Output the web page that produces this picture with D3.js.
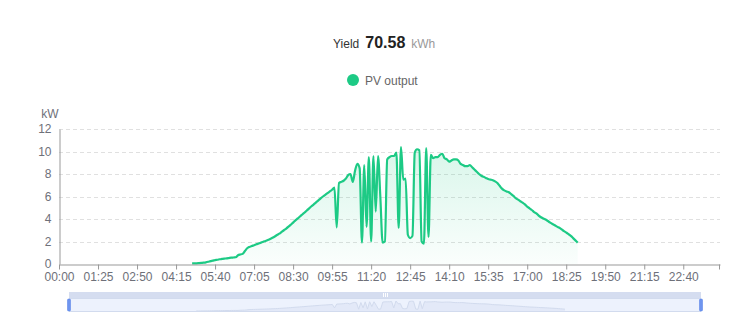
<!DOCTYPE html>
<html>
<head>
<meta charset="utf-8">
<script src="https://cdn.jsdelivr.net/npm/d3@7/dist/d3.min.js"></script>
<style>
  html, body { margin: 0; padding: 0; background: #fff; }
  svg { display: block; font-family: "Liberation Sans", Arial, sans-serif; }
</style>
</head>
<body>
<svg id="chart" width="732" height="324"></svg>
<script>
// Daily yield shown in the header
const yieldValue = 70.58;
const yieldUnit = "kWh";
const seriesName = "PV output";

// x categories: every 5 minutes of the day, 00:00 .. 24:00
const timeSlots = [];
for (let m = 0; m <= 24 * 60; m += 5) {
  timeSlots.push(String(Math.floor(m / 60)).padStart(2, "0") + ":" + String(m % 60).padStart(2, "0"));
}
const xTickLabels = ["00:00","01:25","02:50","04:15","05:40","07:05","08:30","09:55","11:20",
                     "12:45","14:10","15:35","17:00","18:25","19:50","21:15","22:40"];
const yTicks = [0, 2, 4, 6, 8, 10, 12];

// PV output in kW, one sample every 5 minutes starting at 04:50
const pvStart = "04:50";
const pvOutput = [
  0.05, 0.05, 0.06, 0.08, 0.10, 0.12, 0.15, 0.20, 0.26, 0.30,
  0.35, 0.38, 0.42, 0.45, 0.48, 0.50, 0.53, 0.56, 0.58, 0.60,
  0.78, 0.85, 0.90, 1.15, 1.40, 1.52, 1.60, 1.67, 1.75, 1.82,
  1.90, 1.98, 2.05, 2.13, 2.22, 2.33, 2.45, 2.58, 2.70, 2.85,
  3.00, 3.15, 3.32, 3.50, 3.68, 3.88, 4.05, 4.22, 4.40, 4.58,
  4.76, 4.95, 5.13, 5.30, 5.48, 5.65, 5.83, 6.00, 6.15, 6.30,
  6.45, 6.60, 6.80, 3.25, 7.20, 7.30, 7.40, 7.60, 7.90, 8.00,
  7.30, 8.30, 8.90, 8.50, 1.90, 8.80, 3.30, 9.50, 2.00, 9.60,
  4.65, 9.60, 6.00, 1.90, 2.00, 9.30, 9.50, 9.60, 9.60, 9.90,
  3.20, 10.40, 7.50, 7.60, 2.60, 2.30, 2.50, 9.90, 10.20, 10.10,
  2.00, 1.80, 10.30, 2.40, 9.70, 9.40, 9.50, 9.50, 9.70, 9.80,
  9.40, 9.30, 9.10, 9.20, 9.30, 9.30, 9.20, 8.90, 8.80, 8.70,
  8.70, 8.80, 8.60, 8.40, 8.20, 8.00, 7.85, 7.75, 7.65, 7.55,
  7.50, 7.45, 7.35, 7.20, 6.95, 6.70, 6.55, 6.45, 6.38, 6.22,
  6.05, 5.85, 5.72, 5.58, 5.45, 5.30, 5.10, 4.95, 4.80, 4.62,
  4.50, 4.30, 4.15, 4.05, 3.95, 3.82, 3.68, 3.56, 3.45, 3.32,
  3.22, 3.08, 2.92, 2.80, 2.65, 2.50, 2.30, 2.10, 1.90
];

const lineColor = "#1dca85";
const startIdx = timeSlots.indexOf(pvStart);
const points = pvOutput.map((v, k) => ({ t: timeSlots[startIdx + k], v }));

const svg = d3.select("#chart");
const plot = { left: 59, right: 720, top: 129, bottom: 264 };

const x = d3.scalePoint().domain(timeSlots).range([plot.left, plot.right]);
const y = d3.scaleLinear().domain([0, 12]).range([plot.bottom, plot.top]);

// ---- header: yield ----
const head = svg.append("g");
const tY = head.append("text").attr("y", 48).attr("font-size", 12).attr("fill", "#333").text("Yield");
const tV = head.append("text").attr("y", 48).attr("font-size", 16).attr("font-weight", "bold").attr("fill", "#222").text(yieldValue.toFixed(2));
const tU = head.append("text").attr("y", 48).attr("font-size", 12).attr("fill", "#999").text(yieldUnit);
{
  const w1 = tY.node().getComputedTextLength();
  const w2 = tV.node().getComputedTextLength();
  const w3 = tU.node().getComputedTextLength();
  const gap = 6;
  let cx = 333;
  tY.attr("x", cx); cx += w1 + gap;
  tV.attr("x", cx); cx += w2 + gap;
  tU.attr("x", cx);
}

// ---- legend ----
const legend = svg.append("g");
legend.append("circle").attr("cx", 353).attr("cy", 80).attr("r", 6).attr("fill", lineColor);
legend.append("text").attr("x", 365).attr("y", 84.5).attr("font-size", 12).attr("fill", "#666").text(seriesName);

// ---- grid lines ----
svg.append("g").selectAll("line").data(yTicks.filter(d => d > 0)).join("line")
  .attr("x1", plot.left).attr("x2", plot.right)
  .attr("y1", d => Math.round(y(d)) + 0.5).attr("y2", d => Math.round(y(d)) + 0.5)
  .attr("stroke", "#e0e0e0").attr("stroke-dasharray", "4,3");

// ---- area + line ----
const defs = svg.append("defs");
const grad = defs.append("linearGradient").attr("id", "pvFill")
  .attr("x1", 0).attr("y1", 0).attr("x2", 0).attr("y2", 1);
grad.append("stop").attr("offset", "0%").attr("stop-color", lineColor).attr("stop-opacity", 0.17);
grad.append("stop").attr("offset", "100%").attr("stop-color", lineColor).attr("stop-opacity", 0.02);

const curve = d3.curveMonotoneX;
const area = d3.area().curve(curve).x(d => x(d.t)).y0(y(0)).y1(d => y(d.v));
const line = d3.line().curve(curve).x(d => x(d.t)).y(d => y(d.v));

svg.append("path").datum(points).attr("d", area).attr("fill", "url(#pvFill)");
svg.append("path").datum(points).attr("d", line)
  .attr("fill", "none").attr("stroke", lineColor).attr("stroke-width", 2.2)
  .attr("stroke-linejoin", "round");

// ---- y axis ----
const yAxis = d3.axisLeft(y).tickValues(yTicks).tickSize(0).tickPadding(8);
const gy = svg.append("g").attr("transform", `translate(${plot.left + 0.5},0)`).call(yAxis);
gy.select(".domain").attr("stroke", "#999");
gy.selectAll("text").attr("font-size", 12).attr("fill", "#6e7079")
  .attr("font-family", "Liberation Sans, Arial, sans-serif");
svg.append("text").attr("x", 50).attr("y", 118).attr("text-anchor", "middle")
  .attr("font-size", 12).attr("fill", "#6e7079").text("kW");

// ---- x axis ----
const xAxis = d3.axisBottom(x).tickValues(xTickLabels).tickSize(5).tickPadding(3).tickSizeOuter(0);
const gx = svg.append("g").attr("transform", `translate(0,${plot.bottom + 0.5})`).call(xAxis);
gx.select(".domain").attr("stroke", "#999");
gx.selectAll(".tick line").attr("stroke", "#999");
gx.selectAll("text").attr("font-size", 12).attr("fill", "#6e7079")
  .attr("font-family", "Liberation Sans, Arial, sans-serif");
gx.append("line").attr("x1", plot.right - 0.5).attr("x2", plot.right - 0.5).attr("y1", 0).attr("y2", 5).attr("stroke", "#999");

// ---- data zoom slider ----
const sl = { left: 69, right: 701, top: 298, bottom: 312 };
const slider = svg.append("g");
slider.append("rect").attr("x", sl.left).attr("y", 292).attr("width", sl.right - sl.left).attr("height", 6)
  .attr("fill", "#d5ddf0");
slider.append("rect").attr("x", sl.left + 0.5).attr("y", sl.top + 0.5).attr("width", sl.right - sl.left - 1).attr("height", sl.bottom - sl.top - 1)
  .attr("fill", "#edf2fd").attr("stroke", "#d2dbee");
const sx = d3.scalePoint().domain(timeSlots).range([sl.left, sl.right]);
const sy = d3.scaleLinear().domain([0, d3.max(pvOutput)]).range([sl.bottom - 1, sl.top + 3]);
slider.append("path").datum(points)
  .attr("d", d3.area().x(d => sx(d.t)).y0(sl.bottom - 1).y1(d => sy(d.v)))
  .attr("fill", "#d2dbee").attr("fill-opacity", 0.35);
slider.append("path").datum(points)
  .attr("d", d3.line().x(d => sx(d.t)).y(d => sy(d.v)))
  .attr("fill", "none").attr("stroke", "#d2dbee").attr("stroke-width", 1);
// move handle grip
[-2, 0, 2].forEach(o => slider.append("line")
  .attr("x1", 385.5 + o).attr("x2", 385.5 + o).attr("y1", 293).attr("y2", 297)
  .attr("stroke", "#fff").attr("stroke-width", 1));
// range handles
[sl.left, sl.right].forEach(hx => slider.append("rect")
  .attr("x", hx - 1.5).attr("y", 299).attr("width", 3).attr("height", 12).attr("rx", 1)
  .attr("fill", "#6f95ef").attr("stroke", "#4f7be6").attr("stroke-width", 0.5));
</script>
</body>
</html>
